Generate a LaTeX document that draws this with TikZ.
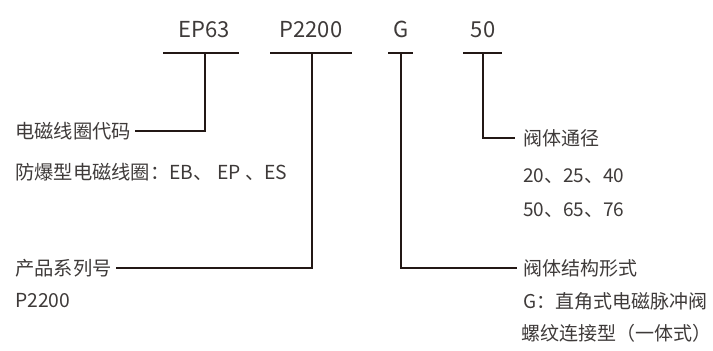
\documentclass[tikz,border=0pt]{standalone}
\usepackage{fontspec}
\setmainfont{Noto Sans CJK SC}
\definecolor{txt}{HTML}{3E3A39}
\definecolor{lnc}{HTML}{231815}
\begin{document}
\begin{tikzpicture}[x=1pt,y=-1pt,
  toplbl/.style={anchor=base,inner sep=0pt,font=\fontsize{22}{26}\selectfont,text=txt},
  lbl/.style={anchor=west,inner xsep=4pt,inner ysep=0pt,font=\fontsize{19.3}{22}\selectfont,text=txt},
  rlbl/.style={lbl,inner xsep=0pt,font=\fontsize{19}{22}\selectfont},
  ln/.style={draw=lnc,line width=1.7pt}]
\useasboundingbox (0,0) rectangle (713,351);
% top codes
\node[toplbl] (t1) at (204,37) {EP63};
\node[toplbl] (t2) at (311,37) {P2200};
\node[toplbl] (t3) at (401,37) {G};
\node[toplbl] (t4) at (483,37) {50};
% bars
\coordinate (b1l) at (163,53); \coordinate (b1r) at (239,53); \coordinate (b1) at (205,53);
\coordinate (b2l) at (270,53); \coordinate (b2r) at (352,53); \coordinate (b2) at (312,53);
\coordinate (b3l) at (388,53); \coordinate (b3r) at (413,53); \coordinate (b3) at (401,53);
\coordinate (b4l) at (463,53); \coordinate (b4r) at (502,53); \coordinate (b4) at (483,53);
\draw[ln] (b1l) -- (b1r);
\draw[ln] (b2l) -- (b2r);
\draw[ln] (b3l) -- (b3r);
\draw[ln] (b4l) -- (b4r);
% left texts
\node[lbl] (l1) at (11,131) {电磁线圈代码};
\node[lbl] (l1b) at (11,172) {防爆型电磁线圈：EB、 EP 、ES};
\node[lbl] (l2) at (11,268) {产品系列号};
\node[lbl] (l2b) at (11,301) {P2200};
% right texts
\node[rlbl] (r1) at (523,138) {阀体通径};
\node[rlbl] (r1b) at (523,176) {20、25、40};
\node[rlbl] (r1c) at (523,210) {50、65、76};
\node[rlbl] (r2) at (523,268) {阀体结构形式};
\node[rlbl] (r2b) at (523,301) {G：直角式电磁脉冲阀};
\node[rlbl] (r2c) at (521,333) {螺纹连接型（一体式）};
% connectors
\draw[ln] (b1) -- (b1 |- l1.east) -- (l1.east);
\draw[ln] (b2) -- (b2 |- l2.east) -- (l2.east);
\draw[ln] (b3) -- (b3 |- r2.west) -- ([xshift=-6pt]r2.west);
\draw[ln] (b4) -- (b4 |- r1.west) -- ([xshift=-8pt]r1.west);
\end{tikzpicture}
\end{document}
